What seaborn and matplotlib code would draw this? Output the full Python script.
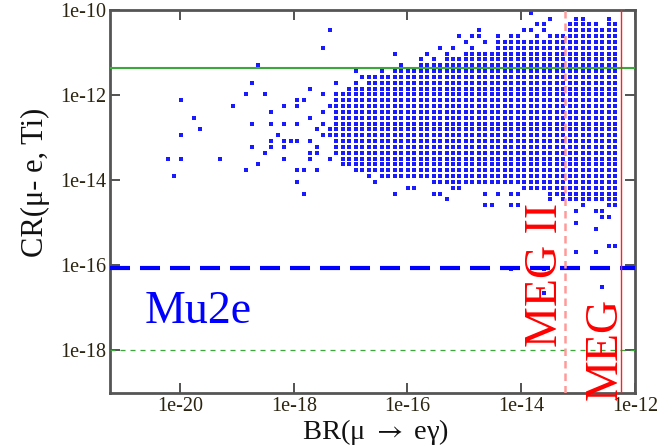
import numpy as np
import pandas as pd
import matplotlib
matplotlib.use("Agg")
import matplotlib.pyplot as plt
from matplotlib.ticker import NullLocator
import seaborn as sns

# grid of the scan (log10 units): column k -> x, row j -> y
X0, DX = -12.35, 0.114
Y0, DY = -11.30, 0.137

# dense core: top / bottom row index for columns k = 0, 1, 2, ...
core_top = [-6] * 8 + [-4] * 11 + [-2] * 5 + [-1] * 3 + [0] * 4 + [1] * 4 + [2] * 4 + [4] * 2 + [5] * 2 + [6]
core_bottom = [23] * 9 + [22] * 2 + [21] * 3 + [20] * 15 + [19] * 8 + [18] * 4 + [17] * 2 + [15]

# isolated points outside the core (column, row)
extra_k = [0, 1, 1, 3, 4, 5, 6, 5, 6, 7, 10, 11, 12, 13, 11, 13, 9, 8, 10, 12, 14, 15, 16, 18, 21, 21, 22, 24,
           20, 22, 23, 25, 26, 27, 29, 28, 30, 34, 33, 36, 40, 39, 40, 43, 44, 45, 41, 43,
           0, 1, 5, 6, 3, 2, 2, 1, 6, 3, 1, 0, 6, 3, 11, 16, 2, 11, 20, 18, 16, 15, 14, 20, 19, 16, 15, 10,
           24, 25, 26, 27, 28, 31, 32, 34, 37, 38,
           42, 43, 44, 45, 47, 45, 48, 49, 49, 51, 47, 45, 49, 51, 44, 46, 44, 45, 42, 43, 42, 43, 47, 49,
           50, 51, 46, 46, 47, 44, 47, 51, 46, 48, 49, 49, 48, 52, 53, 53, 53, 53, 51, 54, 54, 55, 55, 56,
           56, 56, 57, 57, 59, 61, 64, 65, 67, 67, 67, 68, 69]
extra_j = [-7, -8, -7, -7, -7, -8, -8, -7, -7, -7, -8, -7, -7, -9, -6, -6, -5, -5, -5, -5, -6, -5, -5, -5, -5, -6, -5, -5,
           -4, -3, -4, -3, -2, -3, -2, -1, -1, -2, 0, 1, 1, 2, 3, 3, -6, -3, 4, 5,
           24, 24, 24, 25, 25, 25, 26, 26, 27, 28, 31, 31, 32, 32, 35, 35, 38, 39, 22, 22, 22, 22, 21, 24, 24, 24, 24, 23,
           21, 21, 23, 22, 22, 21, 21, 22, 20, 19,
           8, 8, 7, 8, 4, 5, 6, 6, 7, 7, 9, 10, 10, 10, 11, 11, 12, 12, 14, 14, 15, 15, 13, 13,
           13, 13, 14, 15, 15, 16, 16, 16, 18, 18, 18, 20, 22, 12, 8, 10, 13, 14, 14, 5, 15, 0, 17, 3,
           10, 14, 5, 18, 7, 16, 11, 9, 6, 12, 16, 19, 16]

# reference limits
sindrum_ti = 4.3e-12
mu2e = 8.5e-17
future_cr = 1e-18
meg = 5.7e-13
meg2 = 6e-14

xtick_vals = [1e-20, 1e-18, 1e-16, 1e-14, 1e-12]
xtick_labels = ["1e-20", "1e-18", "1e-16", "1e-14", "1e-12"]
ytick_vals = [1e-18, 1e-16, 1e-14, 1e-12, 1e-10]
ytick_labels = ["1e-18", "1e-16", "1e-14", "1e-12", "1e-10"]

ks, js = [], []
for k, (t, b) in enumerate(zip(core_top, core_bottom)):
    for j in range(t, b + 1):
        ks.append(k)
        js.append(j)
ks += extra_k
js += extra_j
df = pd.DataFrame({"BR": 10 ** (X0 - DX * np.array(ks)),
                   "CR": 10 ** (Y0 - DY * np.array(js))})

sns.set_style("ticks")
plt.rcParams["font.family"] = ["Liberation Serif", "DejaVu Serif"]
plt.rcParams["mathtext.fontset"] = "stix"

fig = plt.figure(figsize=(6.67, 4.48), dpi=100)
ax = fig.add_axes([0.165, 0.1228, 0.787, 0.855])
ax.set_xscale("log")
ax.set_yscale("log")

sns.scatterplot(data=df, x="BR", y="CR", marker="s", s=6, color="#1a1aff",
                linewidth=0, ax=ax, legend=False, zorder=2)

ax.axhline(sindrum_ti, color="#3aa83a", lw=1.5, zorder=3)
ax.axhline(mu2e, color="blue", lw=3, dashes=(4.8, 2.4), zorder=3)
ax.axhline(future_cr, color="#3aa83a", lw=0.9, dashes=(4, 4), zorder=3)
ax.axvline(meg, color="#ff2020", lw=1.0, zorder=3)
ax.axvline(meg2, color="#ff9a9a", lw=1.8, dashes=(3, 2), zorder=3)

ax.text(10 ** -20.62, 10 ** -17.35, "Mu2e", color="blue", fontsize=33, ha="left", va="baseline")
ax.text(10 ** -13.37, 10 ** -17.93, "MEG II", color="red", fontsize=33, rotation=90,
        rotation_mode="anchor", ha="left", va="baseline")
ax.text(10 ** -12.32, 10 ** -19.155, "MEG", color="red", fontsize=33, rotation=90,
        rotation_mode="anchor", ha="left", va="baseline", clip_on=False)

ax.set_xlim(10 ** -21.23, 1e-12)
ax.set_ylim(1e-19, 1e-10)
ax.set_xticks(xtick_vals)
ax.set_xticklabels(xtick_labels)
ax.set_yticks(ytick_vals)
ax.set_yticklabels(ytick_labels)
ax.xaxis.set_minor_locator(NullLocator())
ax.yaxis.set_minor_locator(NullLocator())
ax.tick_params(direction="in", length=7, width=1.3, top=True, right=True,
               labelsize=14.5, labelcolor="#2b2410", color="#444444", pad=3)

for s in ax.spines.values():
    s.set_linewidth(2)
    s.set_color("#555555")

ax.set_xlabel("BR(\u03bc $\\rightarrow$ e\u03b3)", fontsize=20.5, color="#111111")
ax.set_ylabel("CR(\u03bc- e, Ti)", fontsize=22, color="#111111")
ax.xaxis.set_label_coords(0.505, -0.063)
ax.yaxis.set_label_coords(-0.115, 0.55)

fig.savefig("out.png", dpi=100)
